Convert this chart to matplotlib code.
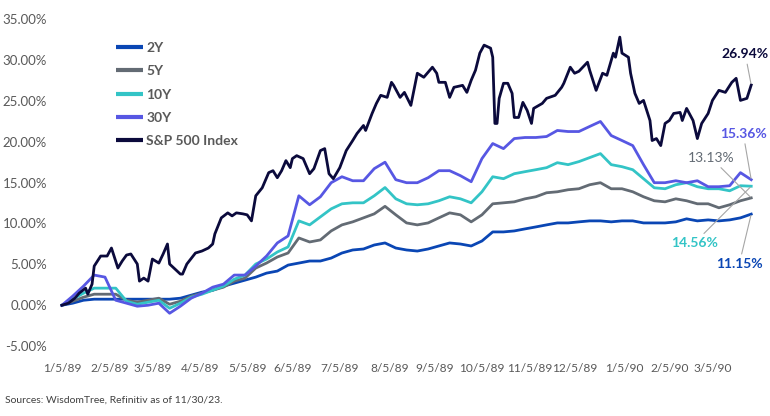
import numpy as np
import pandas as pd
import matplotlib
matplotlib.use("Agg")
import matplotlib.pyplot as plt
from matplotlib.ticker import FuncFormatter

plt.rcParams['font.family'] = ['Lato', 'DejaVu Sans']

# trading days 1/5/89 .. 3/29/90, bond series sampled weekly (every 5th trading day)
days = pd.bdate_range('1989-01-05', periods=321)
week_days = np.arange(0, 321, 5)

y2 = [0.0, 0.25, 0.61, 0.74, 0.74, 0.74, 0.74, 0.74, 0.74, 0.74, 0.74, 0.86, 1.23, 1.60, 1.84, 2.33,
      2.70, 3.07, 3.44, 3.93, 4.18, 4.91, 5.16, 5.41, 5.41, 5.77, 6.39, 6.76, 6.88, 7.37, 7.62, 7.00,
      6.76, 6.63, 6.88, 7.25, 7.62, 7.49, 7.25, 7.86, 8.97, 8.97, 9.09, 9.34, 9.58, 9.83, 10.07, 10.07,
      10.20, 10.32, 10.32, 10.20, 10.32, 10.32, 10.07, 10.07, 10.07, 10.20, 10.57, 10.32, 10.44, 10.32,
      10.44, 10.69, 11.15]
y5 = [0.0, 0.49, 0.98, 1.35, 1.35, 1.35, 0.61, 0.37, 0.61, 0.86, 0.12, 0.49, 1.11, 1.47, 1.84, 2.21,
      2.95, 3.32, 4.55, 5.16, 5.90, 6.39, 8.23, 7.74, 7.99, 9.09, 9.83, 10.20, 10.69, 11.18, 12.10, 11.06,
      10.07, 9.83, 10.07, 10.69, 11.30, 11.06, 10.20, 11.06, 12.41, 12.53, 12.65, 13.02, 13.27, 13.76,
      13.88, 14.13, 14.25, 14.74, 14.99, 14.25, 14.25, 13.88, 13.27, 12.78, 12.65, 13.02, 12.78, 12.41,
      12.41, 11.92, 12.29, 12.78, 13.13]
y10 = [0.0, 0.74, 1.47, 2.09, 2.09, 2.09, 0.49, 0.12, 0.37, 0.61, -0.37, 0.25, 0.98, 1.35, 1.84, 2.33,
       3.19, 3.69, 5.04, 5.65, 6.51, 7.13, 10.32, 9.83, 10.81, 11.79, 12.41, 12.53, 12.53, 13.39, 14.40,
       13.02, 12.41, 12.29, 12.41, 12.78, 13.27, 13.02, 12.53, 13.88, 15.72, 15.48, 16.09, 16.34, 16.58,
       16.83, 17.44, 17.20, 17.57, 18.06, 18.55, 17.20, 16.95, 16.58, 15.48, 14.37, 14.25, 14.74, 14.99,
       14.50, 14.25, 14.25, 14.00, 14.62, 14.56]
y30 = [0.0, 1.11, 2.33, 3.69, 3.44, 0.61, 0.25, -0.12, 0.0, 0.25, -0.98, -0.12, 0.86, 1.47, 2.21, 2.58,
       3.69, 3.69, 4.79, 6.02, 7.62, 8.48, 13.39, 12.29, 13.27, 14.99, 15.72, 15.23, 15.23, 16.71, 17.50,
       15.36, 14.99, 14.99, 15.60, 16.46, 16.46, 15.85, 15.11, 17.94, 19.78, 19.16, 20.39, 20.52, 20.52,
       20.64, 21.38, 21.25, 21.25, 21.87, 22.48, 20.76, 20.15, 19.53, 17.20, 14.99, 14.99, 15.23, 14.99,
       15.23, 14.50, 14.50, 14.62, 16.22, 15.36]

# S&P 500 turning points (trading day number, cumulative return %)
sp_day = [0, 3, 6, 8, 11, 12, 14, 15, 18, 21, 23, 26, 28, 30, 32, 35, 36, 38, 40, 42, 45, 47, 49, 50,
          52, 55, 56, 58, 62, 65, 68, 70, 71, 74, 77, 79, 81, 84, 86, 88, 90, 93, 96, 98, 100, 102, 104,
          106, 107, 109, 112, 115, 117, 120, 122, 124, 126, 129, 132, 135, 137, 140, 141, 144, 146, 148,
          151, 153, 154, 157, 159, 162, 165, 168, 172, 174, 175, 178, 180, 182, 186, 188, 190, 192, 194,
          196, 199, 200, 201, 202, 203, 205, 207, 209, 210, 212, 214, 216, 218, 219, 223, 225, 229, 232,
          233, 236, 238, 240, 244, 245, 248, 251, 253, 256, 257, 259, 260, 263, 264, 266, 268, 270, 273,
          274, 276, 278, 280, 282, 284, 287, 288, 290, 293, 295, 297, 300, 302, 305, 308, 311, 313, 315,
          318, 320]
sp_val = [0.0, 0.25, 0.86, 1.47, 2.09, 1.35, 2.58, 4.79, 6.02, 6.02, 7.00, 4.55, 5.41, 6.14, 6.27, 5.04,
          2.95, 3.32, 2.95, 5.65, 5.16, 6.27, 7.49, 5.04, 4.55, 3.81, 3.81, 5.04, 6.39, 6.63, 7.00, 7.49,
          8.72, 10.69, 11.30, 10.93, 11.30, 11.18, 11.06, 10.32, 13.39, 14.37, 16.22, 16.46, 15.60, 16.46,
          17.69, 16.83, 17.94, 18.30, 17.94, 16.09, 16.71, 18.92, 19.16, 16.09, 15.48, 16.83, 18.92, 20.15,
          21.01, 21.99, 21.38, 23.46, 24.69, 25.68, 25.43, 27.27, 26.90, 25.43, 26.04, 24.45, 28.38, 27.89,
          29.12, 28.38, 27.27, 27.27, 25.43, 26.66, 26.90, 26.04, 27.52, 28.75, 30.84, 31.82, 31.45, 30.34,
          22.24, 22.24, 25.31, 27.15, 27.15, 25.92, 22.97, 22.97, 24.82, 23.83, 22.24, 24.08, 24.69, 25.31,
          25.68, 26.66, 27.15, 29.12, 28.38, 28.62, 29.73, 28.75, 26.29, 28.38, 28.13, 30.84, 30.34, 32.80,
          30.84, 30.34, 28.38, 25.92, 24.69, 25.06, 22.60, 20.15, 20.39, 19.53, 22.24, 22.60, 23.46, 23.59,
          22.60, 24.08, 22.60, 20.39, 22.24, 23.46, 25.06, 26.29, 26.04, 27.27, 27.76, 25.06, 25.31, 26.94]

names = ['2Y', '5Y', '10Y', '30Y', 'S&P 500 Index']
colors = ['#0A46B4', '#636B74', '#33C4C6', '#5757E3', '#0B0A3C']
tick_months = pd.date_range('1989-01-01', '1990-03-01', freq='MS') + pd.Timedelta(days=4)

fig = plt.figure(figsize=(7.7, 4.16), dpi=100)
ax = fig.add_axes([0.072, 0.168, 0.912, 0.786])

for vals, name, c in zip([y2, y5, y10, y30], names[:4], colors[:4]):
    ax.plot(week_days, vals, color=c, lw=2.0, label=name, solid_joinstyle='round')
ax.plot(sp_day, sp_val, color=colors[4], lw=2.0, label=names[4], solid_joinstyle='round')

ax.set_xlim(-3, 323)
ax.set_ylim(-5, 35)
ax.set_yticks(np.arange(-5, 36, 5))
ax.yaxis.set_major_formatter(FuncFormatter(lambda v, p: f"{v:.2f}%"))
tick_pos = days.searchsorted(tick_months)
ax.set_xticks(tick_pos)
ax.set_xticklabels([f"{d.month}/{d.day}/{d.strftime('%y')}" for d in tick_months])
ax.tick_params(axis='both', length=0, colors='#595959', labelsize=9.5)
ax.tick_params(axis='x', pad=12, labelsize=8.6)
ax.tick_params(axis='y', pad=6)
for s in ax.spines.values():
    s.set_visible(False)

leg = ax.legend(loc='upper left', bbox_to_anchor=(0.077, 0.952), frameon=False,
                handlelength=1.9, handletextpad=0.25, labelspacing=0.82, borderpad=0,
                prop={'weight': 'bold', 'size': 10})
for t in leg.get_texts():
    t.set_color('#595959')
for l in leg.get_lines():
    l.set_linewidth(3)
    l.set_solid_capstyle('butt')

# end labels with leader lines
lead = dict(arrowstyle='-', color='#A6A6A6', lw=0.8, shrinkA=1, shrinkB=1)
last = week_days[-1]
ax.annotate(f"{sp_val[-1]:.2f}%", xy=(sp_day[-1], sp_val[-1]), xytext=(-6, 31), textcoords='offset pixels',
            ha='center', va='center', color=colors[4], fontsize=10, fontweight='bold', arrowprops=lead)
ax.annotate(f"{y30[-1]:.2f}%", xy=(last, y30[-1]), xytext=(-8, 46), textcoords='offset pixels',
            ha='center', va='center', color=colors[3], fontsize=10, fontweight='bold', arrowprops=lead)
ax.annotate(f"{y5[-1]:.2f}%", xy=(last, y5[-1]), xytext=(-40, 40), textcoords='offset pixels',
            ha='center', va='center', color=colors[1], fontsize=10, arrowprops=lead)
ax.annotate(f"{y10[-1]:.2f}%", xy=(last, y10[-1]), xytext=(-57, -57), textcoords='offset pixels',
            ha='center', va='center', color=colors[2], fontsize=10, fontweight='bold', arrowprops=lead)
ax.annotate(f"{y2[-1]:.2f}%", xy=(last, y2[-1]), xytext=(-12, -50), textcoords='offset pixels',
            ha='center', va='center', color=colors[0], fontsize=10, fontweight='bold', arrowprops=lead)

fig.text(0.006, 0.033, "Sources: WisdomTree, Refinitiv as of 11/30/23.", fontsize=7.5, color='#404040')

fig.savefig('out.png', dpi=100)
